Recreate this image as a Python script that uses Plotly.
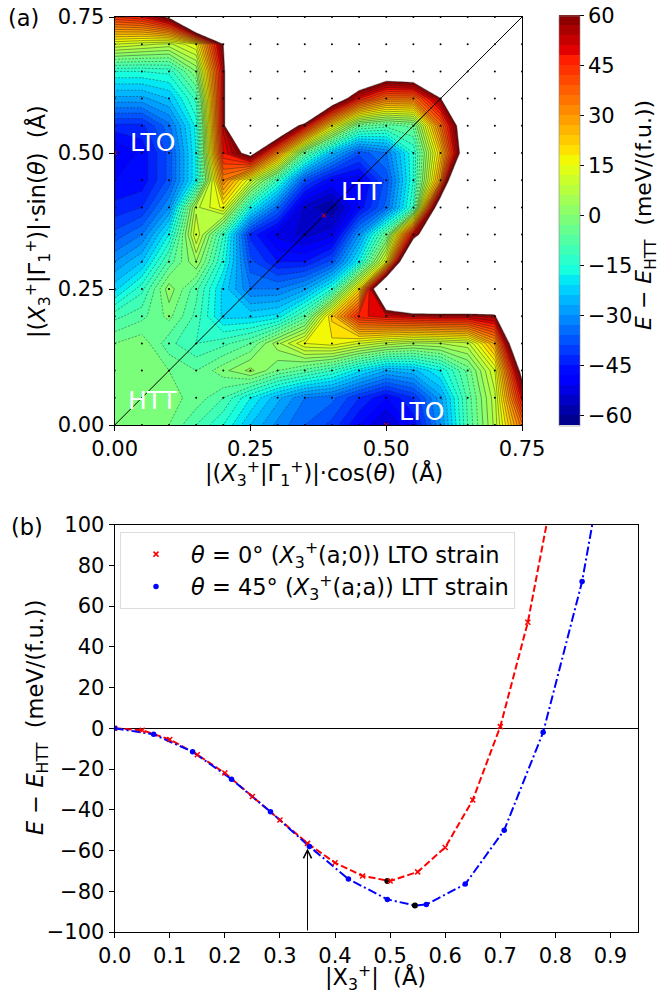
import plotly.graph_objects as go

W, H = 659, 996
FONT = "DejaVu Sans"
FS = 21
FT = 22.5

# ---------- panel (a) data ----------
grid_x = [0.00, 0.05, 0.10, 0.15, 0.20, 0.25, 0.30, 0.35, 0.40, 0.45, 0.50, 0.55, 0.60, 0.65, 0.70, 0.75]
grid_y = [0.00, 0.05, 0.10, 0.15, 0.20, 0.25, 0.30, 0.35, 0.40, 0.45, 0.50, 0.55, 0.60, 0.65, 0.70, 0.75]
energy_rows = [
    [-1, -1, -3, -9, -15, -24, -31, -36, -40, -48, -55, -47, -30, -9, 7, 35],
    [-1, -1, -2, -4, -9, -18, -26, -33, -35, -42, -48, -42, -28, -8, 8, 50],
    [-1, -1, -3, -6, -1, 4, -3, -7, -12, -20, -27, -25, -18, -5, 12, 65],
    [-3, -1, -8, -12, -10, -6, 5, 15, 17, 12, 8, 5, 6, 8, 28, 88],
    [-10, -7, -2, -10, -22, -22, -20, -8, 22, 47, 50, 52, 53, 53, 56, 200],
    [-22, -13, 2, -8, -22, -33, -33, -28, -15, 20, 95, 140, 140, 140, 140, 200],
    [-30, -24, -8, 3, -16, -38, -45, -45, -38, -18, 15, 105, 200, 200, 200, 200],
    [-38, -33, -18, 12, -12, -43, -52, -55, -52, -30, -5, 52, 92, 200, 200, 200],
    [-44, -42, -30, 8, 16, -17, -35, -55, -60, -47, -35, -12, 78, 200, 200, 200],
    [-48, -47, -38, -18, 33, 12, -12, -38, -48, -50, -38, -15, 30, 130, 200, 200],
    [-52, -47, -38, -18, 48, 66, 32, -5, -25, -38, -33, -15, 22, 76, 200, 200],
    [-43, -43, -34, -17, 52, 200, 85, 52, 18, -5, -8, -5, 35, 77, 200, 200],
    [-28, -28, -24, -11, 52, 200, 200, 150, 75, 48, 35, 35, 58, 200, 200, 200],
    [-15, -15, -14, 0, 52, 200, 200, 200, 200, 88, 74, 77, 200, 200, 200, 200],
    [12, 10, 8, 15, 60, 200, 200, 200, 200, 200, 200, 200, 200, 200, 200, 200],
    [45, 48, 62, 122, 200, 200, 200, 200, 200, 200, 200, 200, 200, 200, 200, 200],
]
minima_x = [0.0, 0.5, 0.385]
minima_y = [0.5, 0.0, 0.385]
diagonal = [0.0, 0.75]
colorbar_ticks = [-60, -45, -30, -15, 0, 15, 30, 45, 60]

# ---------- panel (b) data ----------
lto_x = [0.0, 0.05, 0.10, 0.15, 0.20, 0.25, 0.30, 0.35, 0.40, 0.45, 0.50, 0.55, 0.60, 0.65, 0.70, 0.75]
lto_y = [0.0, -1.0, -5.5, -13.0, -22.0, -33.5, -45.0, -56.5, -66.0, -72.5, -75.0, -70.5, -58.5, -35.2, 0.8, 52.0]
lto_curve_x = lto_x + [0.80]
lto_curve_y = lto_y + [122.6]
ltt_x = [0.0, 0.0707, 0.1414, 0.2121, 0.2828, 0.3535, 0.4243, 0.495, 0.5657, 0.6364, 0.7071, 0.7778, 0.8485]
ltt_y = [0.0, -3.0, -11.5, -25.0, -41.0, -58.0, -74.0, -84.0, -86.5, -76.5, -50.0, -2.0, 72.0]
ltt_curve_x = ltt_x[:8] + [0.545] + ltt_x[8:] + [0.9192]
ltt_curve_y = ltt_y[:8] + [-87.0] + ltt_y[8:] + [179.0]
min_x = [0.495, 0.545]
min_y = [-75.0, -87.0]

# matplotlib jet, with its own break points
jet_points = [
    (0.0, 0, 0, 128), (0.11, 0, 0, 255), (0.125, 0, 0, 255), (0.34, 0, 219, 255), (0.35, 0, 229, 247),
    (0.375, 20, 255, 226), (0.64, 238, 255, 8), (0.66, 255, 234, 0), (0.89, 255, 30, 0),
    (0.91, 232, 0, 0), (1.0, 128, 0, 0),
]
jet = [[p, f"rgb({r},{g},{b})"] for p, r, g, b in jet_points]

LINE = "rgba(30,30,30,0.6)"
AX_A = dict(range=[0, 0.75], tickvals=[0, 0.25, 0.5, 0.75], ticktext=["0.00", "0.25", "0.50", "0.75"],
            ticks="outside", ticklen=5, tickwidth=1, tickcolor="black", showgrid=False, zeroline=False,
            showline=True, linecolor="black", linewidth=1.2, mirror=True, automargin=False,
            tickfont=dict(family=FONT, size=FS, color="black"))

fig = go.Figure()

fig.add_trace(go.Contour(
    x=grid_x, y=grid_y, z=energy_rows, zmin=-63, zmax=60, colorscale=jet, showlegend=False,
    contours=dict(coloring="fill", start=-63, end=60, size=3, showlines=False),
    line=dict(width=0, smoothing=0), xaxis="x", yaxis="y", hoverinfo="skip",
    colorbar=dict(
        x=559.3 / W, xanchor="left", xpad=0, y=(H - 425.5) / H, yanchor="bottom", ypad=0,
        len=409.5 / H, lenmode="fraction", thickness=21, thicknessmode="pixels",
        tickvals=colorbar_ticks, ticks="outside", ticklen=4, tickcolor="black",
        tickfont=dict(family=FONT, size=FS, color="black"), outlinewidth=0.6, outlinecolor="#888",
    ),
))
fig.add_trace(go.Contour(
    x=grid_x, y=grid_y, z=energy_rows, showscale=False, showlegend=False, xaxis="x", yaxis="y", hoverinfo="skip",
    contours=dict(coloring="none", start=-63, end=-3, size=3),
    line=dict(width=0.7, color=LINE, dash="2px,1.5px", smoothing=0),
))
fig.add_trace(go.Contour(
    x=grid_x, y=grid_y, z=energy_rows, showscale=False, showlegend=False, xaxis="x", yaxis="y", hoverinfo="skip",
    contours=dict(coloring="none", start=0, end=60, size=3),
    line=dict(width=0.7, color=LINE, smoothing=0),
))
fig.add_trace(go.Contour(
    x=grid_x, y=grid_y, z=energy_rows, showscale=False, showlegend=False, xaxis="x", yaxis="y", hoverinfo="skip",
    contours=dict(type="constraint", operation="<", value=60), fillcolor="white",
    line=dict(width=0.7, color=LINE, smoothing=0),
))
fig.add_trace(go.Scatter(
    x=[x for x in grid_x for _ in grid_y], y=[y for _ in grid_x for y in grid_y], mode="markers",
    marker=dict(color="black", size=2), showlegend=False, xaxis="x", yaxis="y", hoverinfo="skip", cliponaxis=True,
))
fig.add_trace(go.Scatter(
    x=diagonal, y=diagonal, mode="lines", line=dict(color="black", width=1), showlegend=False, xaxis="x", yaxis="y",
))
fig.add_trace(go.Scatter(
    x=minima_x, y=minima_y, mode="markers", showlegend=False, xaxis="x", yaxis="y",
    marker=dict(color="red", size=4, symbol="x-thin", line=dict(color="red", width=1)),
))

# panel (b)
fig.add_trace(go.Scatter(
    x=lto_curve_x, y=lto_curve_y, mode="lines", line=dict(color="red", width=2, dash="7px,3px"),
    showlegend=False, xaxis="x2", yaxis="y2",
))
fig.add_trace(go.Scatter(
    x=ltt_curve_x, y=ltt_curve_y, mode="lines",
    line=dict(color="blue", width=2, dash="9px,3px,2px,3px"),
    showlegend=False, xaxis="x2", yaxis="y2",
))
fig.add_trace(go.Scatter(
    x=min_x, y=min_y, mode="markers", marker=dict(color="black", size=6), showlegend=False, xaxis="x2", yaxis="y2",
))
fig.add_trace(go.Scatter(
    x=lto_x, y=lto_y, mode="markers", xaxis="x2", yaxis="y2",
    marker=dict(color="red", size=5, symbol="x-thin", line=dict(color="red", width=1.5)),
    name="<i>θ</i> = 0° (<i>X</i><sub>3</sub><sup>+</sup>(a;0)) LTO strain",
))
fig.add_trace(go.Scatter(
    x=ltt_x, y=ltt_y, mode="markers", xaxis="x2", yaxis="y2", marker=dict(color="blue", size=5.5),
    name="<i>θ</i> = 45° (<i>X</i><sub>3</sub><sup>+</sup>(a;a)) LTT strain",
))

def paper_text(text, px, py, size=FT, angle=0, anchor="center"):
    return dict(text=text, xref="paper", yref="paper", x=px / W, y=(H - py) / H, xanchor=anchor, yanchor="middle",
                textangle=angle, showarrow=False, font=dict(family=FONT, size=size, color="black"))

fig.update_layout(
    width=W, height=H, autosize=False, margin=dict(l=0, r=0, t=0, b=0, autoexpand=False),
    paper_bgcolor="white", plot_bgcolor="white", font=dict(family=FONT, size=FS, color="black"),
    xaxis=dict(AX_A, domain=[114.7 / W, 522 / W], anchor="y"),
    yaxis=dict(AX_A, domain=[(H - 425) / H, (H - 17) / H], anchor="x"),
    xaxis2=dict(domain=[114.7 / W, 638 / W], anchor="y2", range=[0, 0.95], automargin=False,
                tickvals=[0, .1, .2, .3, .4, .5, .6, .7, .8, .9], tickformat=".1f",
                ticks="outside", ticklen=5, tickcolor="black", showgrid=False, zeroline=False,
                showline=True, linecolor="black", linewidth=1.2, mirror=True,
                tickfont=dict(family=FONT, size=FS, color="black")),
    yaxis2=dict(domain=[(H - 932) / H, (H - 524.5) / H], anchor="x2", range=[-100, 100], automargin=False,
                tickvals=[-100, -80, -60, -40, -20, 0, 20, 40, 60, 80, 100],
                ticks="outside", ticklen=5, tickcolor="black", showgrid=False,
                zeroline=True, zerolinecolor="black", zerolinewidth=1.2,
                showline=True, linecolor="black", linewidth=1.2, mirror=True,
                tickfont=dict(family=FONT, size=FS, color="black")),
    legend=dict(x=120 / W, xanchor="left", y=(H - 532) / H, yanchor="top", bgcolor="rgba(255,255,255,0.8)",
                bordercolor="#ddd", borderwidth=1, font=dict(family=FONT, size=FT, color="black"),
                itemwidth=60, tracegroupgap=0),
    annotations=[
        paper_text("(a)", 6, 18, anchor="left"),
        paper_text("(b)", 9, 527, anchor="left"),
        paper_text("|(<i>X</i><sub>3</sub><sup>+</sup>|Γ<sub>1</sub><sup>+</sup>)|·cos(<i>θ</i>)  (Å)", 324, 473),
        paper_text("|(<i>X</i><sub>3</sub><sup>+</sup>|Γ<sub>1</sub><sup>+</sup>)|·sin(<i>θ</i>)  (Å)", 37, 222, angle=-90),
        paper_text("|X<sub>3</sub><sup>+</sup>|  (Å)", 375, 977),
        paper_text("<i>E</i> − <i>E</i><sub>HTT</sub>  (meV/(f.u.))", 37, 718, angle=-90),
        paper_text("<i>E</i> − <i>E</i><sub>HTT</sub>  (meV/(f.u.))", 645, 215, size=22, angle=-90),
        dict(text="LTO", xref="x", yref="y", x=0.07, y=0.52, showarrow=False, font=dict(family=FONT, size=25, color="white")),
        dict(text="LTT", xref="x", yref="y", x=0.455, y=0.43, showarrow=False, font=dict(family=FONT, size=25, color="white")),
        dict(text="HTT", xref="x", yref="y", x=0.07, y=0.045, showarrow=False, font=dict(family=FONT, size=25, color="white")),
        dict(text="LTO", xref="x", yref="y", x=0.565, y=0.025, showarrow=False, font=dict(family=FONT, size=25, color="white")),
        dict(text="", xref="x2", yref="y2", x=0.35, y=-59, ax=0.35, ay=-100, axref="x2", ayref="y2",
             showarrow=True, arrowhead=5, arrowsize=1.6, arrowwidth=1, arrowcolor="black"),
    ],
)

fig.write_html("out.html", config=dict(displayModeBar=False),
               post_script="document.body.style.margin='0';document.body.style.overflow='hidden';")
